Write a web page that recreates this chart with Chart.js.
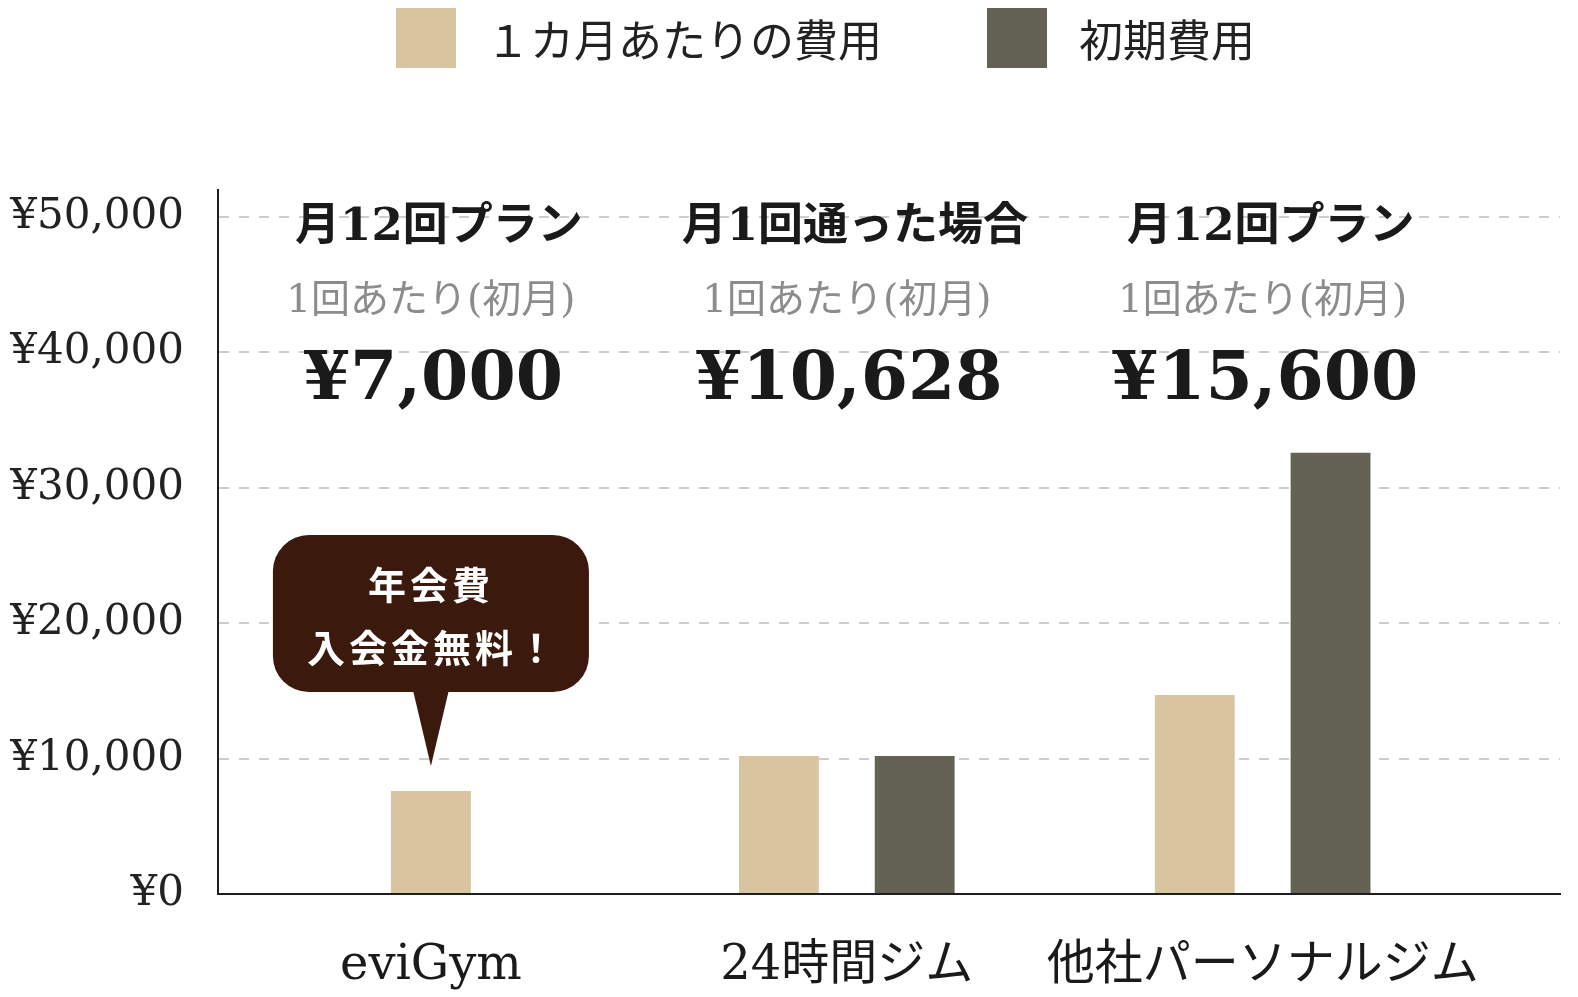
<!DOCTYPE html>
<html lang="ja">
<head>
<meta charset="utf-8">
<title>費用比較</title>
<script src="https://cdn.jsdelivr.net/npm/chart.js@4.4.1/dist/chart.umd.min.js"></script>
<style>
    html, body { margin: 0; padding: 0; background: #fff; }
    #wrap { width: 1578px; height: 997px; position: relative; }
</style>
</head>
<body>
<div id="wrap"><canvas id="costChart"></canvas></div>
<script>
        // chart data
        const gyms = ['eviGym', '24時間ジム', '他社パーソナルジム'];
        const monthlyCost = [7600, 10200, 14700];
        const initialCost = [null, 10200, 32600];
        const seriesNames = ['１カ月あたりの費用', '初期費用'];
        const planNames = ['月12回プラン', '月1回通った場合', '月12回プラン'];
        const planNotes = ['1回あたり(初月)', '1回あたり(初月)', '1回あたり(初月)'];
        const perVisit = [7000, 10628, 15600];
        const yTicks = [0, 10000, 20000, 30000, 40000, 50000];
        const bubbleLines = ['年会費', '入会金無料！'];

        const SERIF = '"DejaVu Serif", "Noto Sans CJK JP", serif';
        const JP = '"Noto Sans CJK JP", sans-serif';
        const yen = v => '¥' + v.toLocaleString('en-US');

        // legend drawn by hand so the two items sit where the original has them
        const topLegend = {
            id: 'topLegend',
            afterDraw(chart) {
                const ctx = chart.ctx;
                const spots = [[396, 486], [987, 1079]];
                ctx.save();
                chart.data.datasets.forEach((ds, i) => {
                    ctx.fillStyle = ds.backgroundColor;
                    ctx.fillRect(spots[i][0], 8, 60, 60);
                    ctx.fillStyle = '#222';
                    ctx.font = '44px ' + JP;
                    ctx.textAlign = 'left';
                    ctx.textBaseline = 'middle';
                    ctx.fillText(ds.label, spots[i][1], 40);
                });
                ctx.restore();
            }
        };

        // plan text above each group
        const planText = {
            id: 'planText',
            afterDatasetsDraw(chart) {
                const ctx = chart.ctx;
                const x = chart.scales.x;
                ctx.save();
                ctx.textAlign = 'center';
                ctx.textBaseline = 'middle';
                gyms.forEach((g, i) => {
                    const cx = x.getPixelForValue(i);
                    ctx.fillStyle = '#1a1a1a';
                    ctx.font = 'bold 45px ' + SERIF;
                    ctx.fillText(planNames[i], cx + 8, 228);
                    ctx.fillStyle = '#8c8c8c';
                    ctx.font = '39px ' + SERIF;
                    ctx.fillText(planNotes[i], cx, 302);
                    ctx.fillStyle = '#1a1a1a';
                    ctx.font = 'bold 68px ' + SERIF;
                    ctx.fillText(yen(perVisit[i]), cx + 2, 381);
                });
                ctx.restore();
            }
        };

        // speech bubble over the eviGym bar
        const bubble = {
            id: 'bubble',
            afterDatasetsDraw(chart) {
                const bar = chart.getDatasetMeta(0).data[0];
                if (!bar) return;
                const ctx = chart.ctx;
                const tipX = bar.x, tipY = bar.y - 25;
                const w = 316, h = 157, r = 36;
                const left = tipX - w / 2, bottom = tipY - 74, top = bottom - h;
                ctx.save();
                ctx.fillStyle = '#3b1a0d';
                ctx.beginPath();
                ctx.roundRect(left, top, w, h, r);
                ctx.fill();
                ctx.beginPath();
                ctx.moveTo(tipX - 18, bottom - 2);
                ctx.lineTo(tipX + 18, bottom - 2);
                ctx.lineTo(tipX, tipY);
                ctx.closePath();
                ctx.fill();
                ctx.fillStyle = '#fff';
                ctx.font = 'bold 38px ' + JP;
                ctx.textAlign = 'center';
                ctx.textBaseline = 'middle';
                ctx.letterSpacing = '4px';
                ctx.fillText(bubbleLines[0], tipX, top + 49);
                ctx.fillText(bubbleLines[1], tipX + 2, top + 112);
                ctx.restore();
            }
        };

        const ctx = document.getElementById('costChart');
        const costChart = new Chart(ctx, {
            type: 'bar',
            data: {
                datasets: [{
                    label: seriesNames[0],
                    data: monthlyCost.map((v, i) => ({ x: i, y: v })),
                    backgroundColor: '#d8c5a0'
                }, {
                    label: seriesNames[1],
                    data: initialCost.map((v, i) => ({ x: i, y: v })),
                    backgroundColor: '#646254'
                }]
            },
            options: {
                responsive: true,
                maintainAspectRatio: false,
                animation: false,
                skipNull: true,
                categoryPercentage: 0.653,
                barPercentage: 0.588,
                maxBarThickness: 80,
                layout: { padding: { top: 190, right: 18, left: 0, bottom: 0 } },
                scales: {
                    x: {
                        type: 'linear',
                        min: -0.512,
                        max: 2.715,
                        offset: false,
                        afterBuildTicks: s => { s.ticks = gyms.map((g, i) => ({ value: i })); },
                        afterFit: s => { s.height = 103; },
                        grid: { display: false, offset: false },
                        border: { display: true, color: '#1e1e1e', width: 2 },
                        ticks: {
                            autoSkip: false,
                            maxRotation: 0,
                            padding: 36,
                            color: '#1a1a1a',
                            font: { family: SERIF, size: 48 },
                            callback: v => gyms[v]
                        }
                    },
                    y: {
                        min: 0,
                        max: 52000,
                        afterBuildTicks: s => { s.ticks = yTicks.map(v => ({ value: v })); },
                        afterFit: s => { s.width = 218; },
                        grid: {
                            color: '#cdcdcd',
                            lineWidth: 2,
                            drawTicks: false
                        },
                        border: { display: true, color: '#1e1e1e', width: 2, dash: [10, 10] },
                        ticks: {
                            padding: 34,
                            color: '#222',
                            font: { family: SERIF, size: 42 },
                            callback: v => yen(v)
                        }
                    }
                },
                plugins: {
                    legend: { display: false },
                    tooltip: { enabled: false }
                }
            },
            plugins: [topLegend, planText, bubble]
        });
</script>
</body>
</html>
